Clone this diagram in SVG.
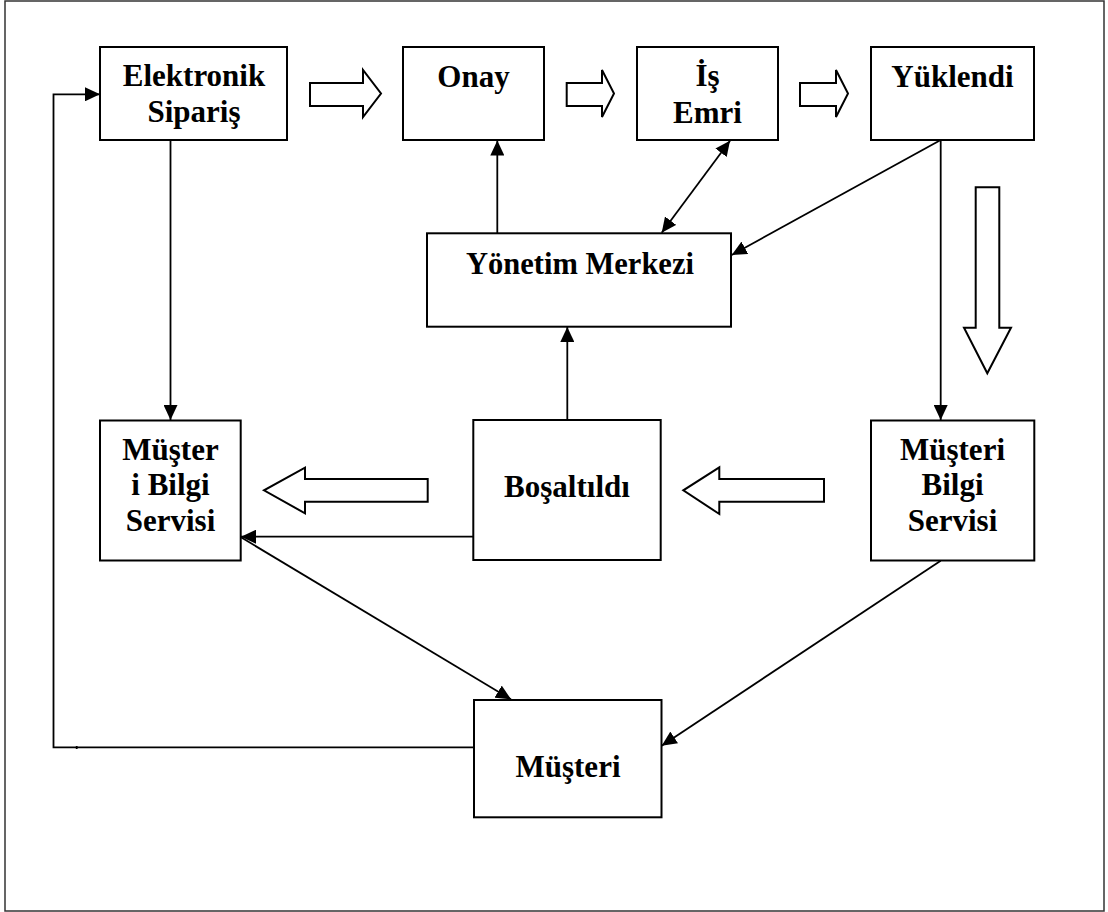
<svg xmlns="http://www.w3.org/2000/svg" width="1108" height="912" viewBox="0 0 1108 912">
  <style>
    .box { fill: #fff; stroke: #000; stroke-width: 2; }
    .lbl { font-family: "Liberation Serif", "Times New Roman", serif; font-weight: bold; font-size: 31px; text-anchor: middle; fill: #000; }
    .con { fill: none; stroke: #000; stroke-width: 1.8; }
    .blk { fill: #fff; stroke: #000; stroke-width: 2; stroke-linejoin: miter; }
  </style>
  <defs>
    <marker id="ah" viewBox="0 0 15 14" refX="15" refY="7" markerWidth="15" markerHeight="14" markerUnits="userSpaceOnUse" orient="auto-start-reverse">
      <path d="M0,0 L15,7 L0,14 z" fill="#000"/>
    </marker>
  </defs>
  <rect x="5" y="1" width="1099" height="910" fill="#fff" stroke="#333" stroke-width="1.5"/>

  <g id="connectors">
    <path class="con" d="M474,747.3 H53.5 V94.3 H100" marker-end="url(#ah)"/>
    <path class="con" d="M76.7,746 V749"/>
    <path class="con" d="M170.5,140 V420" marker-end="url(#ah)"/>
    <path class="con" d="M497.3,233.3 V140.5" marker-end="url(#ah)"/>
    <path class="con" d="M661.7,232.7 L730,140.7" marker-start="url(#ah)" marker-end="url(#ah)"/>
    <path class="con" d="M940.7,140 L731.7,255" marker-end="url(#ah)"/>
    <path class="con" d="M940.7,140 V420" marker-end="url(#ah)"/>
    <path class="con" d="M567.3,420 V327" marker-end="url(#ah)"/>
    <path class="con" d="M473.3,536.7 H241" marker-end="url(#ah)"/>
    <path class="con" d="M241,537.3 L511,699.3" marker-end="url(#ah)"/>
    <path class="con" d="M940.7,560.7 L661.7,745.7" marker-end="url(#ah)"/>
  </g>

  <g id="flow-arrows">
    <polygon class="blk" points="310,83 363,83 363,70 381,93.5 363,117 363,106 310,106"/>
    <polygon class="blk" points="566.7,83 602,83 602,70 614,93.5 602,117 602,106 566.7,106"/>
    <polygon class="blk" points="800,83 836,83 836,70 848,93.5 836,117 836,106 800,106"/>
    <polygon class="blk" points="975.7,187.3 999.3,187.3 999.3,327.7 1011,327.7 987.3,373.3 964,327.7 975.7,327.7"/>
    <polygon class="blk" points="427.7,479 305,479 305,467.7 264,490.3 305,513.3 305,501.7 427.7,501.7"/>
    <polygon class="blk" points="824,479 719.3,479 719.3,467.3 683.3,490.3 719.3,514 719.3,501.7 824,501.7"/>
  </g>

  <g id="elektronik-siparis">
    <rect class="box" x="100" y="47" width="187" height="93"/>
    <text class="lbl" x="194" y="86">Elektronik</text>
    <text class="lbl" x="194" y="122">Sipariş</text>
  </g>
  <g id="onay">
    <rect class="box" x="403" y="47" width="141" height="93"/>
    <text class="lbl" x="473.5" y="87">Onay</text>
  </g>
  <g id="is-emri">
    <rect class="box" x="637" y="47" width="141" height="93"/>
    <text class="lbl" x="707.5" y="86">İş</text>
    <text class="lbl" x="707.5" y="122.5">Emri</text>
  </g>
  <g id="yuklendi">
    <rect class="box" x="871" y="47" width="163" height="93"/>
    <text class="lbl" x="952.5" y="86.7">Yüklendi</text>
  </g>
  <g id="yonetim-merkezi">
    <rect class="box" x="427" y="233.3" width="304" height="93.4"/>
    <text class="lbl" x="580" y="274" font-size="30.5" style="font-size:30.5px">Yönetim Merkezi</text>
  </g>
  <g id="musteri-bilgi-servisi-sol">
    <rect class="box" x="100" y="420.5" width="140.7" height="140"/>
    <text class="lbl" x="170.5" y="460">Müşter</text>
    <text class="lbl" x="170.5" y="494.5">i Bilgi</text>
    <text class="lbl" x="170.5" y="530.7">Servisi</text>
  </g>
  <g id="bosaltildi">
    <rect class="box" x="473.3" y="420" width="187.4" height="140"/>
    <text class="lbl" x="567" y="497.3">Boşaltıldı</text>
  </g>
  <g id="musteri-bilgi-servisi-sag">
    <rect class="box" x="871" y="420.5" width="163.3" height="140"/>
    <text class="lbl" x="952.5" y="460">Müşteri</text>
    <text class="lbl" x="952.5" y="495">Bilgi</text>
    <text class="lbl" x="952.5" y="530.7">Servisi</text>
  </g>
  <g id="musteri">
    <rect class="box" x="474" y="700" width="187.5" height="117.3"/>
    <text class="lbl" x="568" y="776.7">Müşteri</text>
  </g>
</svg>
